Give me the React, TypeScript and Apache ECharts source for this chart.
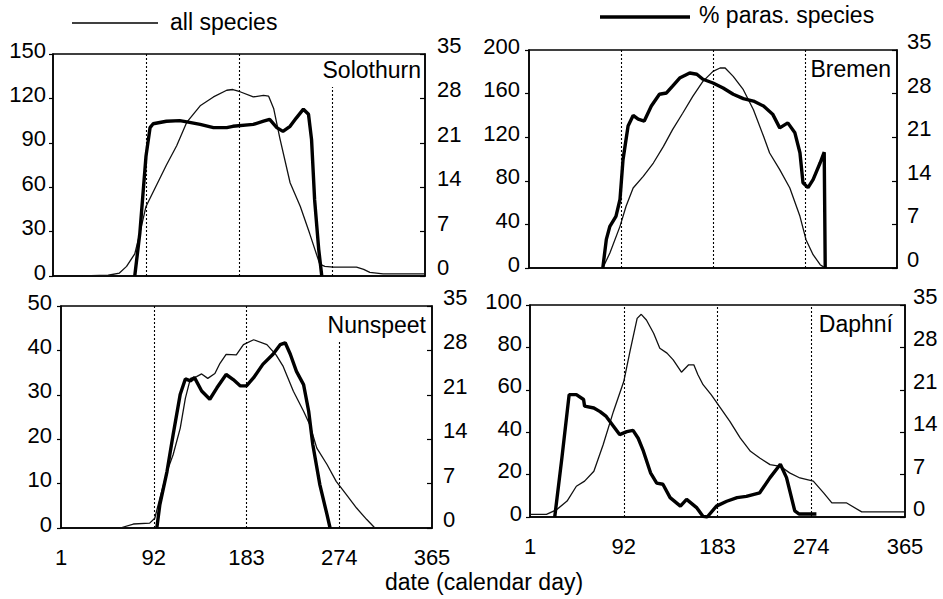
import React, { useEffect, useRef } from "react";
import * as echarts from "echarts";

// ---------- data ----------
const xTickDays = [1, 92, 183, 274, 365];
const rightTicksMax = 35;

const solothurnAllDays = [30, 55, 66, 73, 81, 86, 92, 102, 112, 122, 132, 145, 158, 171, 177, 184, 197, 207, 212, 217, 223, 233, 243, 252, 262, 267, 275, 298, 305, 311, 324, 365];
const solothurnAllValues = [0, 0.5, 2, 6.5, 15, 29, 47, 61, 75, 88, 104, 115, 121, 125.5, 126, 124.5, 121, 122, 121.5, 113, 93, 63, 47, 29, 8, 6.5, 6, 6, 4.5, 2.5, 1.5, 1.5];
const solothurnParasDays = [81, 86, 92, 96, 99, 112, 125, 132, 145, 158, 171, 177, 197, 207, 213, 220, 226, 233, 239, 246, 251, 254, 257, 261, 264];
const solothurnParasValues = [0, 6.8, 18.9, 23.4, 24, 24.4, 24.5, 24.3, 23.9, 23.4, 23.4, 23.6, 23.9, 24.4, 24.7, 23.4, 22.8, 23.6, 24.9, 26.3, 25.5, 21.5, 12, 4.2, 0];

const bremenAllDays = [74, 81, 91, 97, 104, 114, 124, 134, 143, 153, 163, 173, 183, 190, 195, 203, 213, 223, 233, 239, 249, 259, 269, 275, 282, 289, 293];
const bremenAllValues = [0, 13.8, 38.2, 56.6, 73.4, 84, 96.3, 111.6, 127, 142, 157.5, 171.2, 180.4, 183.5, 183.5, 175.8, 163.6, 145.2, 120.8, 105.5, 90.2, 73.4, 47.4, 26, 12.2, 3, 0.6];
const bremenParasDays = [74, 77.5, 81, 87, 91, 94, 99, 104, 109, 115, 122, 130, 137, 143, 150, 160, 167, 173, 183, 193, 203, 213, 223, 233, 242, 249, 257, 264, 269, 272, 277, 282, 289, 293, 294];
const bremenParasValues = [0, 4.6, 6.7, 8.3, 11, 17.4, 22.8, 24.5, 23.9, 23.6, 26, 27.9, 28.1, 29.2, 30.5, 31.3, 31.1, 30.3, 29.7, 28.9, 27.9, 27.2, 26.8, 26, 24.7, 22.5, 23.3, 21.7, 18.5, 13.7, 12.9, 14.2, 16.9, 18.6, 0];

const nunspeetAllDays = [59, 72, 88, 93, 98, 105, 111, 118, 123, 128, 134, 139, 145, 152, 157, 163, 173, 180, 190, 203, 212, 219, 229, 239, 245, 252, 262, 271, 281, 291, 301, 309];
const nunspeetAllValues = [0, 0.9, 1.1, 2.2, 6.7, 12.7, 16.5, 22.5, 29.2, 33.7, 34.1, 34.7, 33.7, 34.8, 37.1, 39.1, 39, 41.3, 42.4, 41.3, 39, 36.4, 30.8, 26.3, 23.3, 18, 14.3, 10.5, 7.5, 4.5, 1.9, 0];
const nunspeetParasDays = [95, 98, 105, 111, 118, 123, 128, 132, 139, 147, 154, 163, 170, 177, 183, 190, 199, 209, 216, 221, 226, 232, 239, 244, 248, 255, 262, 265];
const nunspeetParasValues = [0, 3.7, 8.9, 14.7, 21.1, 23.5, 23.2, 23.7, 21.6, 20.3, 22.1, 24.2, 23.4, 22.4, 22.4, 23.7, 25.8, 27.4, 28.9, 29.2, 27.4, 24.7, 22.6, 18.4, 13.2, 6.8, 2.1, 0];

const daphniAllDays = [1, 17, 27, 37, 46, 54, 63, 72, 82, 92, 98, 105, 109, 114, 121, 127, 134, 140, 148, 155, 160, 164, 169, 177, 186, 195, 205, 215, 224, 234, 244, 253, 263, 276, 286, 294, 308, 323, 365];
const daphniAllValues = [1.2, 1.2, 3.5, 7.5, 14.5, 16.9, 21.6, 34.1, 49.8, 63.9, 78, 93.7, 95.6, 92.9, 86.7, 79.6, 77.3, 74.1, 68.3, 71.8, 71.8, 67.1, 62.4, 57.6, 51.4, 45.1, 37.3, 31, 27.8, 24.7, 23.9, 20.8, 18.4, 16.9, 11.4, 6.7, 6.7, 2.4, 2.4];
const daphniParasDays = [25, 32, 39, 46, 53, 54, 63, 69, 75, 82, 88, 95, 101, 106, 111, 118, 124, 130, 137, 147, 153, 163, 169, 173, 182, 192, 202, 211, 224, 234, 244, 250, 258, 262, 279];
const daphniParasValues = [0, 9.8, 20.2, 20.2, 19.4, 18.3, 18, 17.4, 16.6, 15, 13.6, 14.1, 14.3, 13, 10.9, 7.3, 5.6, 5.4, 3.2, 1.8, 2.9, 1.5, 0.1, 0, 1.8, 2.6, 3.2, 3.4, 4, 6.5, 8.7, 6.5, 1, 0.5, 0.5];

const quarterDays = [92, 183, 274];

// ---------- layout ----------
const FONT = "Liberation Sans";
const panels = [
  {
    name: "Solothurn", leftMax: 150, leftInterval: 30,
    grid: { left: 53, top: 54, width: 372, height: 222 },
    allDays: solothurnAllDays, allValues: solothurnAllValues,
    parasDays: solothurnParasDays, parasValues: solothurnParasValues,
    cutLine: { day: 274, top: 127.7 }, showX: false,
    title: { x: 421, y: 70 }, rightMargin: 12, leftMargin: 7,
  },
  {
    name: "Bremen", leftMax: 200, leftInterval: 40,
    grid: { left: 529, top: 50, width: 368, height: 218 },
    allDays: bremenAllDays, allValues: bremenAllValues,
    parasDays: bremenParasDays, parasValues: bremenParasValues,
    cutLine: null, showX: false,
    title: { x: 891, y: 69 }, rightMargin: 10, leftMargin: 9,
  },
  {
    name: "Nunspeet", leftMax: 50, leftInterval: 10,
    grid: { left: 61, top: 306, width: 371, height: 222 },
    allDays: nunspeetAllDays, allValues: nunspeetAllValues,
    parasDays: nunspeetParasDays, parasValues: nunspeetParasValues,
    cutLine: { day: 274, top: 42.3 }, showX: true,
    title: { x: 426, y: 325 }, rightMargin: 11, leftMargin: 9,
  },
  {
    name: "Daphní", leftMax: 100, leftInterval: 20,
    grid: { left: 530, top: 305, width: 375, height: 212 },
    allDays: daphniAllDays, allValues: daphniAllValues,
    parasDays: daphniParasDays, parasValues: daphniParasValues,
    cutLine: null, showX: true,
    title: { x: 893, y: 324 }, rightMargin: 8, leftMargin: 8,
  },
];

const zip = (a: number[], b: number[]) => a.map((d, i) => [d, b[i]]);

export default function App() {
  const ref = useRef<HTMLDivElement>(null);
  useEffect(() => {
    if (!ref.current) return;
    const chart = echarts.init(ref.current, null, { renderer: "svg" });
    const grid: any[] = [];
    const xAxis: any[] = [];
    const yAxis: any[] = [];
    const series: any[] = [];
    const graphic: any[] = [];
    panels.forEach((p, i) => {
      grid.push({ ...p.grid, show: true, borderColor: "#000", borderWidth: 1.5, backgroundColor: "transparent" });
      xAxis.push({
        type: "value", gridIndex: i, min: 1, max: 365,
        axisLine: { show: true, lineStyle: { color: "#000", width: 1.5 } },
        axisTick: { show: false },
        splitLine: { show: false },
        axisLabel: {
          show: p.showX, customValues: xTickDays, margin: 18,
          color: "#000", fontSize: 22, fontFamily: FONT,
        },
      });
      yAxis.push({
        type: "value", gridIndex: i, position: "left", min: 0, max: p.leftMax, interval: p.leftInterval,
        axisLine: { show: true, lineStyle: { color: "#000", width: 1.5 } },
        axisTick: { show: true, inside: false, length: 4, lineStyle: { color: "#000", width: 1.2 } },
        splitLine: { show: false },
        axisLabel: { margin: p.leftMargin, color: "#000", fontSize: 22, fontFamily: FONT, verticalAlign: "bottom", lineHeight: 8 },
      });
      yAxis.push({
        type: "value", gridIndex: i, position: "right", min: 0, max: rightTicksMax, interval: 7,
        axisLine: { show: true, lineStyle: { color: "#000", width: 1.5 } },
        axisTick: { show: true, inside: true, length: 5, lineStyle: { color: "#000", width: 1.2 } },
        splitLine: { show: false },
        axisLabel: { margin: p.rightMargin, color: "#000", fontSize: 22, fontFamily: FONT, verticalAlign: "bottom", lineHeight: 17 },
      });
      const mlData: any[] = quarterDays.map((d) => {
        if (p.cutLine && p.cutLine.day === d) {
          return [{ coord: [d, 0] }, { coord: [d, p.cutLine.top] }];
        }
        return { xAxis: d };
      });
      series.push({
        type: "line", name: "all species", xAxisIndex: i, yAxisIndex: i * 2,
        data: zip(p.allDays, p.allValues), symbol: "none",
        lineStyle: { color: "#111", width: 1.3 },
        markLine: {
          silent: true, symbol: ["none", "none"], label: { show: false },
          lineStyle: { color: "#000", width: 1.1, type: [2, 2] },
          data: mlData,
        },
      });
      series.push({
        type: "line", name: "% paras. species", xAxisIndex: i, yAxisIndex: i * 2 + 1,
        data: zip(p.parasDays, p.parasValues), symbol: "none",
        lineStyle: { color: "#000", width: 3.4 },
      });
      graphic.push({
        type: "text", x: p.title.x, y: p.title.y,
        style: { text: p.name, fill: "#000", fontSize: 23, fontFamily: FONT, align: "right", verticalAlign: "middle" },
      });
    });
    graphic.push(
      { type: "line", shape: { x1: 72, y1: 23, x2: 158, y2: 23 }, style: { stroke: "#000", lineWidth: 1.5 } },
      { type: "text", x: 170, y: 22, style: { text: "all species", fill: "#000", fontSize: 23, fontFamily: FONT, align: "left", verticalAlign: "middle" } },
      { type: "line", shape: { x1: 600, y1: 17, x2: 690, y2: 17 }, style: { stroke: "#000", lineWidth: 3.5 } },
      { type: "text", x: 699, y: 15, style: { text: "% paras. species", fill: "#000", fontSize: 23, fontFamily: FONT, align: "left", verticalAlign: "middle" } },
      { type: "text", x: 484, y: 582, style: { text: "date (calendar day)", fill: "#000", fontSize: 23, fontFamily: FONT, align: "center", verticalAlign: "middle" } },
    );
    chart.setOption({
      animation: false,
      backgroundColor: "#fff",
      grid, xAxis, yAxis, series, graphic,
    });
    return () => chart.dispose();
  }, []);
  return <div ref={ref} style={{ position: "fixed", left: 0, top: 0, width: 943, height: 599 }} />;
}
